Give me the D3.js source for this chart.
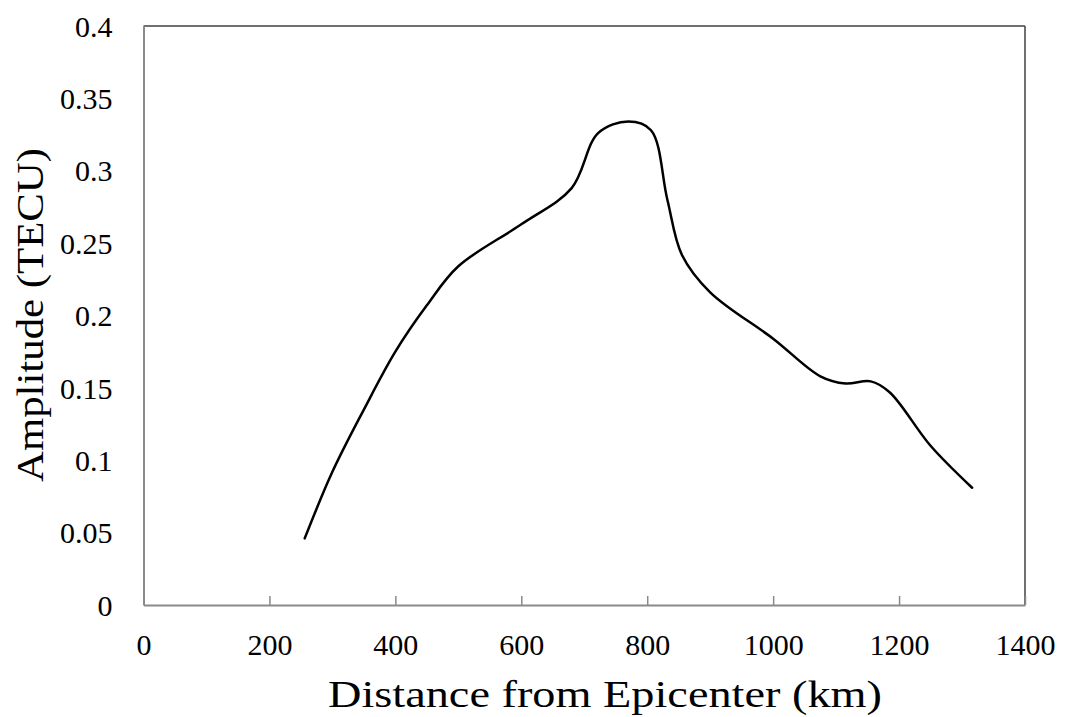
<!DOCTYPE html>
<html>
<head>
<meta charset="utf-8">
<script src="https://cdn.jsdelivr.net/npm/d3@7"></script>
<style>
  html, body { margin: 0; padding: 0; background: #ffffff; }
  svg { display: block; }
  text { font-family: "Liberation Serif", "Times New Roman", serif; fill: #000; }
</style>
</head>
<body>
<svg id="chart" width="1065" height="717"></svg>
<script>
// Data
const distanceKm = [256, 300, 350, 400, 450, 500, 600, 680, 722, 770, 806, 832, 855, 900, 1000, 1075, 1115, 1155, 1185, 1250, 1316];
const amplitudeTECU = [0.046, 0.092, 0.135, 0.175, 0.207, 0.234, 0.263, 0.288, 0.326, 0.334, 0.328, 0.280, 0.242, 0.216, 0.184, 0.158, 0.153, 0.1545, 0.147, 0.110, 0.081];
const xTicks = [0, 200, 400, 600, 800, 1000, 1200, 1400];
const yTicks = [0, 0.05, 0.1, 0.15, 0.2, 0.25, 0.3, 0.35, 0.4];
const xTitle = "Distance from Epicenter (km)";
const yTitle = "Amplitude (TECU)";

const svg = d3.select("#chart");
const mLeft = 143.5, mRight = 1025, mTop = 26, mBottom = 605;

const x = d3.scaleLinear().domain([0, 1400]).range([mLeft, mRight]);
const y = d3.scaleLinear().domain([0, 0.4]).range([mBottom, mTop]);

// Plot border (top & right darker)
svg.append("line").attr("x1", mLeft).attr("x2", mRight).attr("y1", mTop).attr("y2", mTop)
  .attr("stroke", "#404040").attr("stroke-width", 1.5);
svg.append("line").attr("x1", mRight).attr("x2", mRight).attr("y1", mTop).attr("y2", mBottom)
  .attr("stroke", "#404040").attr("stroke-width", 1.5);

// X axis
const xAxis = d3.axisBottom(x).tickValues(xTicks).tickSizeInner(-9).tickSizeOuter(0)
  .tickFormat(d3.format("d")).tickPadding(0);
const gx = svg.append("g").attr("transform", `translate(0,${mBottom})`).call(xAxis);
gx.select(".domain").attr("stroke", "#8a8a8a").attr("stroke-width", 2);
gx.selectAll(".tick line").attr("stroke", "#8a8a8a").attr("stroke-width", 1.5);
gx.selectAll(".tick text").attr("y", 50).attr("dy", null)
  .style("font-size", "30px").style("font-family", "Liberation Serif");

// Y axis
const yAxis = d3.axisLeft(y).tickValues(yTicks).tickSize(0).tickPadding(0)
  .tickFormat(d => String(+d.toFixed(2)));
const gy = svg.append("g").attr("transform", `translate(${mLeft},0)`).call(yAxis);
gy.select(".domain").attr("stroke", "#8a8a8a").attr("stroke-width", 2);
gy.selectAll(".tick text").attr("x", -31).attr("dy", "0.34em")
  .style("font-size", "30px").style("font-family", "Liberation Serif");

// Line
const line = d3.line().x((d, i) => x(distanceKm[i])).y(d => y(d)).curve(d3.curveCatmullRom.alpha(0.5));
svg.append("path").datum(amplitudeTECU).attr("d", line)
  .attr("fill", "none").attr("stroke", "#000").attr("stroke-width", 2.5)
  .attr("stroke-linejoin", "round").attr("stroke-linecap", "round");

// Titles
svg.append("text").attr("x", (328 + 882) / 2).attr("y", 707).attr("text-anchor", "middle")
  .style("font-size", "38px").attr("textLength", 554).attr("lengthAdjust", "spacingAndGlyphs")
  .text(xTitle);
svg.append("text").attr("transform", `translate(43,315) rotate(-90)`).attr("text-anchor", "middle")
  .style("font-size", "38px").attr("textLength", 334).attr("lengthAdjust", "spacingAndGlyphs")
  .text(yTitle);
</script>
</body>
</html>
